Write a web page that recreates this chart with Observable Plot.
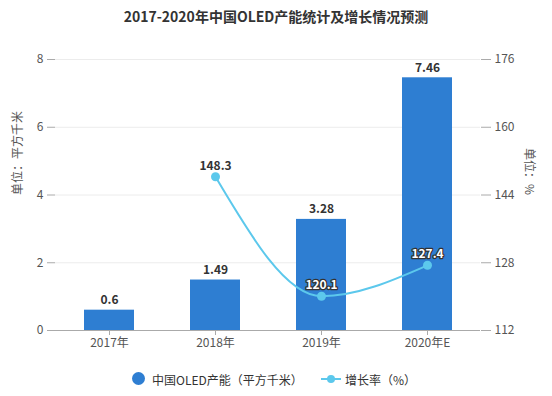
<!DOCTYPE html>
<html><head><meta charset="utf-8">
<script src="https://cdn.jsdelivr.net/npm/d3@7"></script>
<script src="https://cdn.jsdelivr.net/npm/@observablehq/plot@0.6"></script>
<style>
body{margin:0;background:#fff;font-family:"Noto Sans CJK SC","Noto Sans",sans-serif;}
#wrap{position:relative;width:552px;height:396px;overflow:hidden;background:#fff}
#title{position:absolute;top:0;left:0;width:552px;height:32px;line-height:32px;text-align:center;font-weight:bold;font-size:14px;color:#333}
#chart{position:absolute;top:32px;left:0}
#legend{position:absolute;top:364px;left:0;width:552px;height:32px;font-size:12px;color:#333}
#legend .it{position:absolute;top:0;height:32px;line-height:32px;white-space:nowrap}
</style></head><body>
<div id="wrap">
  <div id="title">2017-2020年中国OLED产能统计及增长情况预测</div>
  <div id="chart"></div>
  <div id="legend">
    <span class="it" style="left:132px;top:8px;width:13px;height:13px;border-radius:50%;background:#2E7ED2"></span>
    <span class="it" style="left:152px">中国OLED产能（平方千米）</span>
    <svg class="it" style="left:320px;top:0" width="22" height="32"><line x1="1" y1="15" x2="21" y2="15" stroke="#5CC8EC" stroke-width="2"/><circle cx="11" cy="15" r="4" fill="#5CC8EC"/></svg>
    <span class="it" style="left:345px">增长率（%）</span>
  </div>
</div>
<script>
const years = ["2017年", "2018年", "2019年", "2020年E"];
const capacity = [0.6, 1.49, 3.28, 7.46];
const rateYears = ["2018年", "2019年", "2020年E"];
const rate = [148.3, 120.1, 127.4];
const leftTicks = [0, 2, 4, 6, 8];
const rightTicks = [112, 128, 144, 160, 176];
const leftTitle = "单位：平方千米";
const rightTitle = "单位：%";

const barColor = "#2E7ED2";
const lineColor = "#5CC8EC";
const lMax = 8, rMin = 112, rMax = 176;
const toLeft = v => (v - rMin) / (rMax - rMin) * lMax;
const fromLeft = d => Math.round(rMin + d / lMax * (rMax - rMin));

const bars = years.map((y, i) => ({year: y, value: capacity[i]}));
const rates = rateYears.map((y, i) => ({year: y, value: rate[i], i}));
const font = '"Noto Sans CJK SC","Noto Sans",sans-serif';

const plot = Plot.plot({
  width: 552, height: 332,
  marginTop: 27, marginBottom: 34, marginLeft: 55, marginRight: 72,
  x: {domain: years, paddingInner: 0.53, paddingOuter: 0.265, label: null},
  y: {domain: [0, lMax], label: null},
  style: {fontFamily: font, fontSize: "12px", color: "#555", background: "transparent"},
  marks: [
    Plot.ruleY(leftTicks, {stroke: "#ececec"}),
    Plot.barY(bars, {x: "year", y: "value", fill: barColor}),
    Plot.ruleY([0], {stroke: "#aaa"}),
    Plot.axisX({tickSize: 5, tickPadding: 3, stroke: "#aaa", fill: "#555", label: null}),
    Plot.axisY({ticks: leftTicks, tickSize: 8, tickPadding: 4, stroke: "#aaa", fill: "#555", label: null}),
    Plot.axisY({anchor: "right", ticks: rightTicks.map(toLeft), tickFormat: fromLeft, tickSize: 10, tickPadding: 4, stroke: "#aaa", fill: "#555", label: null}),
    Plot.text(bars, {x: "year", y: "value", text: d => String(d.value), lineAnchor: "bottom", dy: -6, fontWeight: "bold", fontSize: 12, fill: "#333"}),
    Plot.line(rates, {x: "year", y: d => toLeft(d.value), curve: "monotone-x", stroke: lineColor, strokeWidth: 2}),
    Plot.dot(rates, {x: "year", y: d => toLeft(d.value), r: 4.5, fill: lineColor}),
    Plot.text(rates.filter(d => d.i === 0), {x: "year", y: d => toLeft(d.value), text: d => String(d.value), lineAnchor: "bottom", dy: -7, fontWeight: "bold", fontSize: 12, fill: "#333"}),
    Plot.text(rates.filter(d => d.i > 0), {x: "year", y: d => toLeft(d.value), text: d => String(d.value), lineAnchor: "bottom", dy: -7, fontWeight: "bold", fontSize: 12, fill: "white", stroke: "#333", strokeWidth: 2.5}),
    Plot.text([leftTitle], {frameAnchor: "left", text: d => d, rotate: -90, dx: -37, fontSize: 12, fill: "#555"}),
    Plot.text([rightTitle], {frameAnchor: "right", text: d => d, rotate: 90, dx: 48, fontSize: 12, fill: "#555"})
  ]
});
document.getElementById("chart").appendChild(plot);
</script>
</body></html>
